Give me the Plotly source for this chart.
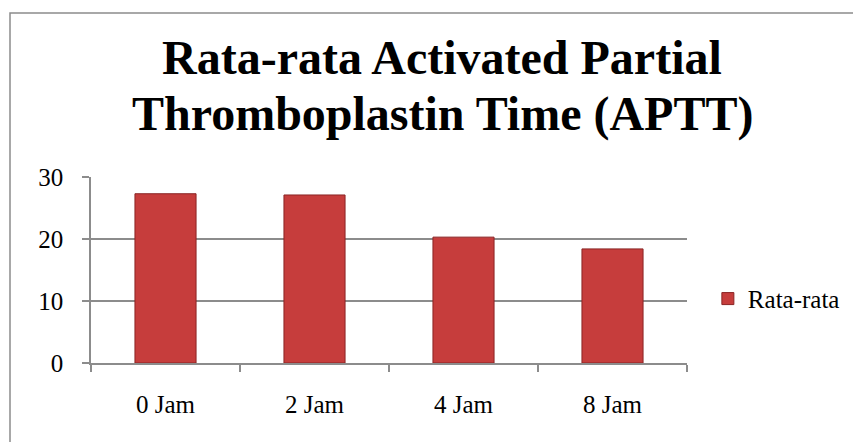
import plotly.graph_objects as go

categories = ["0 Jam", "2 Jam", "4 Jam", "8 Jam"]
values = [27.3, 27.1, 20.3, 18.4]
series_name = "Rata-rata"
title_lines = ["Rata-rata Activated Partial", "Thromboplastin Time (APTT)"]
y_ticks = [0, 10, 20, 30]

# the page body adds an 8px offset; work in reference pixels and shift
OFF = 8
W, H = 861 - OFF, 442 - OFF
L, T = 91 - OFF, 177 - OFF
PLOT_R, PLOT_B = 687 - OFF, 363 - OFF
R, B = W - PLOT_R, H - PLOT_B
FONT = "Liberation Serif, Times New Roman, serif"

fig = go.Figure()
fig.add_trace(go.Bar(
    x=categories, y=values, name=series_name,
    marker=dict(color="#C63D3C", line=dict(color="#8A2424", width=1)),
    showlegend=True,
))

plot_h = H - T - B
plot_w = W - L - R
def px_to_paper_y(py):
    return (PLOT_B - (py - OFF)) / plot_h
def px_to_paper_x(px):
    return ((px - OFF) - L) / plot_w

fig.update_layout(
    width=W, height=H,
    margin=dict(l=L, r=R, t=T, b=B, autoexpand=False),
    paper_bgcolor="white", plot_bgcolor="white",
    bargap=0.59,
    font=dict(family=FONT, size=25, color="black"),
    showlegend=True,
    legend=dict(x=1.035, y=0.345, xanchor="left", yanchor="middle",
                font=dict(family=FONT, size=25, color="black"),
                bgcolor="rgba(0,0,0,0)", itemwidth=30),
)

fig.update_xaxes(
    type="category", showgrid=False, showline=True, linecolor="#8c8c8c", linewidth=1.5,
    ticks="outside", tickson="boundaries", ticklen=7, tickcolor="#8c8c8c", tickwidth=1.5,
    ticklabelstandoff=18,
    tickfont=dict(family=FONT, size=25, color="black"),
)
fig.update_yaxes(
    range=[0, 30], tickvals=y_ticks, showgrid=True, gridcolor="#8c8c8c", gridwidth=1.5,
    showline=True, linecolor="#8c8c8c", linewidth=1.5,
    ticks="outside", ticklen=7, tickcolor="#8c8c8c", tickwidth=1.5,
    ticklabelstandoff=14, zeroline=False,
    tickfont=dict(family=FONT, size=25, color="black"),
)

for line, cy in zip(title_lines, [58, 114]):
    fig.add_annotation(
        text="<b>%s</b>" % line, x=px_to_paper_x(442), y=px_to_paper_y(cy),
        xref="paper", yref="paper", xanchor="center", yanchor="middle",
        showarrow=False, font=dict(family=FONT, size=48, color="black"),
    )

# outer chart border
fig.add_shape(type="rect", xref="paper", yref="paper",
              x0=px_to_paper_x(10), x1=px_to_paper_x(875),
              y0=px_to_paper_y(455), y1=px_to_paper_y(13),
              line=dict(color="#8c8c8c", width=1.5), fillcolor="rgba(0,0,0,0)", layer="below")

fig.write_html("out.html")
